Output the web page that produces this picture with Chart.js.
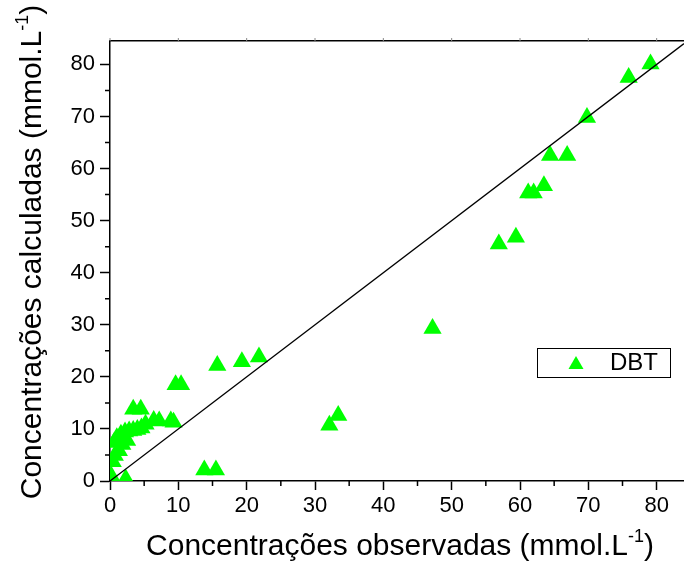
<!DOCTYPE html>
<html>
<head>
<meta charset="utf-8">
<script src="https://cdn.jsdelivr.net/npm/chart.js@4"></script>
<style>
  html, body { margin: 0; padding: 0; background: #fff; }
  #wrap { width: 684px; height: 567px; }
</style>
</head>
<body>
<div id="wrap"><canvas id="scatter-chart" width="684" height="567"></canvas></div>
<script>
// observed vs calculated DBT concentrations (mmol/L)
const observed = [0.2, 2.3, 0.4, 0.7, 1.3, 0.6, 1.0, 1.6, 2.2, 2.8, 3.4, 4.0, 4.6, 5.2, 6.4, 7.2, 8.9, 9.3, 3.4, 4.5, 2.5, 1.8,
                  9.6, 10.4, 13.8, 15.5, 15.7, 19.3, 21.8, 32.1, 33.4, 47.2, 56.9, 59.4, 61.2, 62.0, 63.5, 64.4, 66.9, 69.8, 75.9, 79.1];
const calculated = [0.9, 0.4, 3.7, 4.9, 5.8, 7.4, 8.3, 9.0, 9.4, 9.6, 9.7, 9.9, 10.2, 10.9, 11.6, 11.5, 11.5, 11.3, 13.8, 13.8, 7.8, 7.0,
                    18.5, 18.5, 2.1, 2.1, 22.2, 22.9, 23.8, 10.7, 12.6, 29.3, 45.5, 46.8, 55.3, 55.3, 56.7, 62.5, 62.5, 69.8, 77.5, 80.1];
// y = x reference line
const lineX = [0, 84];
const lineY = [0, 84];
const tickLabels = ['0', '10', '20', '30', '40', '50', '60', '70', '80'];
const minorTicks = [5, 15, 25, 35, 45, 55, 65, 75];
const seriesName = 'DBT';

const FONT = '"Liberation Sans", Arial, sans-serif';
const GREEN = '#00ff00';

function drawTitle(ctx, main, sup, tail, size) {
    // text with a superscript, centered on 0,0
    ctx.font = size + 'px ' + FONT;
    let w1 = ctx.measureText(main).width;
    ctx.font = Math.round(size * 0.6) + 'px ' + FONT;
    let w2 = ctx.measureText(sup).width;
    ctx.font = size + 'px ' + FONT;
    let w3 = ctx.measureText(tail).width;
    let x = -(w1 + w2 + w3) / 2;
    ctx.textBaseline = 'alphabetic';
    ctx.textAlign = 'left';
    ctx.fillText(main, x, 0);
    ctx.font = Math.round(size * 0.6) + 'px ' + FONT;
    ctx.fillText(sup, x + w1, -size * 0.45);
    ctx.font = size + 'px ' + FONT;
    ctx.fillText(tail, x + w1 + w2, 0);
}

const decorations = {
    id: 'decorations',
    afterDraw(chart) {
        let ctx = chart.ctx;
        let xs = chart.scales.x, ys = chart.scales.y;
        let area = chart.chartArea;
        ctx.save();
        // minor ticks
        ctx.strokeStyle = '#000';
        ctx.lineWidth = 1.5;
        ctx.beginPath();
        minorTicks.forEach(v => {
            let px = xs.getPixelForValue(v);
            ctx.moveTo(px, area.bottom); ctx.lineTo(px, area.bottom + 5);
            let py = ys.getPixelForValue(v);
            ctx.moveTo(area.left, py); ctx.lineTo(area.left - 5, py);
        });
        ctx.stroke();
        // short marks above the top border
        ctx.lineWidth = 1;
        ctx.strokeStyle = '#888';
        ctx.beginPath();
        tickLabels.forEach((t, i) => {
            let px = xs.getPixelForValue(i * 10);
            ctx.moveTo(px, area.top); ctx.lineTo(px, area.top - 3);
        });
        ctx.stroke();

        ctx.fillStyle = '#000';
        // axis titles
        ctx.save();
        ctx.translate(400, 555);
        drawTitle(ctx, 'Concentrações observadas (mmol.L', '-1', ')', 30);
        ctx.restore();
        ctx.save();
        ctx.translate(41, 252);
        ctx.rotate(-Math.PI / 2);
        drawTitle(ctx, 'Concentrações calculadas (mmol.L', '-1', ')', 30);
        ctx.restore();
        // legend box
        ctx.fillStyle = '#fff';
        ctx.fillRect(537, 348, 133, 29);
        ctx.strokeStyle = '#000';
        ctx.lineWidth = 1;
        ctx.strokeRect(537.5, 348.5, 133, 29);
        ctx.fillStyle = GREEN;
        ctx.beginPath();
        ctx.moveTo(576, 356); ctx.lineTo(583.5, 369); ctx.lineTo(568.5, 369); ctx.closePath(); ctx.fill();
        ctx.fillStyle = '#000';
        ctx.font = '24px ' + FONT;
        ctx.textBaseline = 'middle';
        ctx.textAlign = 'left';
        ctx.fillText(seriesName, 610, 363);
        ctx.restore();
    }
};

let ctx = document.getElementById('scatter-chart').getContext('2d');
let chart = new Chart(ctx, {
    type: 'scatter',
    data: {
        datasets: [{
            label: 'y = x',
            type: 'line',
            data: lineX.map((x, i) => ({ x: x, y: lineY[i] })),
            borderColor: '#000',
            borderWidth: 1.3,
            pointRadius: 0,
            fill: false
        }, {
            label: seriesName,
            data: observed.map((x, i) => ({ x: x, y: calculated[i] })),
            pointStyle: 'triangle',
            pointRadius: 10.5,
            backgroundColor: GREEN,
            borderColor: GREEN,
            borderWidth: 0
        }]
    },
    options: {
        responsive: false,
        animation: false,
        devicePixelRatio: 1,
        layout: { padding: 0, autoPadding: false },
        plugins: { legend: { display: false }, tooltip: { enabled: false } },
        scales: {
            x: {
                type: 'linear', position: 'bottom', min: 0, max: 84,
                afterFit: s => { s.height = 86; s.paddingLeft = 0; s.paddingRight = 0; },
                border: { color: '#000', width: 1.5 },
                grid: { drawOnChartArea: false, drawTicks: true, tickLength: 9, tickColor: '#000', tickWidth: 1.5 },
                ticks: {
                    stepSize: 10, includeBounds: false, maxRotation: 0, autoSkip: false, padding: 3,
                    color: '#000', font: { family: FONT, size: 22 },
                    callback: v => tickLabels[v / 10]
                }
            },
            x2: {
                type: 'linear', position: 'top', min: 0, max: 84,
                afterFit: s => { s.height = 41; s.paddingLeft = 0; s.paddingRight = 0; },
                border: { color: '#000', width: 1.5 },
                grid: { drawOnChartArea: false, drawTicks: false },
                ticks: { display: false, stepSize: 10, includeBounds: false }
            },
            y: {
                type: 'linear', min: 0, max: 84.5,
                afterFit: s => { s.width = 110; s.paddingTop = 0; s.paddingBottom = 0; },
                border: { color: '#000', width: 1.5 },
                grid: { drawOnChartArea: false, drawTicks: true, tickLength: 10, tickColor: '#000', tickWidth: 1.5 },
                ticks: {
                    stepSize: 10, includeBounds: false, autoSkip: false, padding: 5,
                    color: '#000', font: { family: FONT, size: 22 },
                    callback: v => tickLabels[v / 10]
                }
            }
        }
    },
    plugins: [decorations]
});
</script>
</body>
</html>
